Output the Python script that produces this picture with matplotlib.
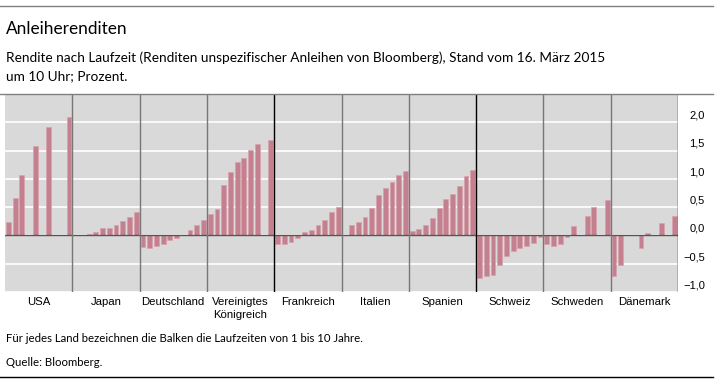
import numpy as np
import matplotlib
matplotlib.use("Agg")
import matplotlib.pyplot as plt
from matplotlib.lines import Line2D

nan = np.nan

# Yields by maturity 1..10 years (percent); NaN = no bond for that maturity
countries = ["USA", "Japan", "Deutschland", "Vereinigtes\nKönigreich", "Frankreich",
             "Italien", "Spanien", "Schweiz", "Schweden", "Dänemark"]
usa = [0.23, 0.67, 1.07, nan, 1.58, nan, 1.91, nan, nan, 2.10]
japan = [nan, 0.01, 0.02, 0.06, 0.13, 0.13, 0.18, 0.25, 0.32, 0.42]
deutschland = [-0.21, -0.22, -0.19, -0.15, -0.08, -0.05, 0.005, 0.10, 0.18, 0.27]
uk = [0.38, 0.47, 0.89, 1.12, 1.29, 1.36, 1.51, 1.62, nan, 1.69]
frankreich = [-0.15, -0.15, -0.12, -0.04, 0.06, 0.09, 0.18, 0.28, 0.41, 0.51]
italien = [nan, 0.19, 0.24, 0.32, 0.48, 0.71, 0.84, 0.94, 1.07, 1.14]
spanien = [0.08, 0.12, 0.19, 0.31, 0.49, 0.65, 0.74, 0.87, 1.05, 1.16]
schweiz = [-0.75, -0.71, -0.70, -0.52, -0.37, -0.28, -0.22, -0.19, -0.14, -0.035]
schweden = [-0.16, -0.19, -0.15, -0.03, 0.16, nan, 0.35, 0.51, nan, 0.62]
daenemark = [-0.71, -0.52, nan, nan, -0.22, 0.04, nan, 0.22, nan, 0.35]
series = [usa, japan, deutschland, uk, frankreich, italien, spanien, schweiz, schweden, daenemark]
yticks = [-1.0, -0.5, 0.0, 0.5, 1.0, 1.5, 2.0]

TEXT_FONT = ["Lato", "DejaVu Sans"]
TICK_FONT = ["Liberation Sans", "DejaVu Sans"]
BAR = "#c4808e"

fig = plt.figure(figsize=(7.2, 3.85), dpi=100)
W, H = 720, 385

def fy(px):
    return 1 - px / H

ax = fig.add_axes([5 / W, fy(292), 673 / W, (292 - 94) / H])
ax.set_facecolor("#d9d9d9")
ax.set_xlim(0, 100)
ax.set_ylim(-1.0, 2.5)

for y in yticks:
    ax.axhline(y, color="white", lw=1.2, zorder=1)
ax.axhline(0, color="#555555", lw=1.0, zorder=3)

for g, vals in enumerate(series):
    x = g * 10 + np.arange(10) + 0.5
    v = np.array(vals, dtype=float)
    ok = ~np.isnan(v)
    ax.bar(x[ok], v[ok], width=0.72, color=BAR, edgecolor="#d7a3ae", linewidth=0.5, zorder=2)

# group dividers
for g in range(1, 11):
    c = "black" if g in (4, 7, 10) else "#777777"
    ax.axvline(g * 10, color=c, lw=1.0, zorder=4)

ax.set_xticks([])
ax.set_yticks([])
for s in ax.spines.values():
    s.set_visible(False)

# right-hand value labels
for y in yticks:
    lab = f"{y:.1f}".replace(".", ",").replace("-", "\u2212")
    ax.text(1.04, y + 0.03, lab, transform=ax.get_yaxis_transform(), ha="right", va="bottom",
            fontsize=8, family=TICK_FONT, color="black")

# country labels
for g, name in enumerate(countries):
    ax.text(g * 10 + 5, -1.09, name, ha="center", va="top", fontsize=8.2,
            family=TICK_FONT, linespacing=1.4)

# header / footer
fig.text(6 / W, fy(29), "Anleiherenditen", fontsize=12.4, family=TEXT_FONT, va="center")
fig.text(6 / W, fy(58), "Rendite nach Laufzeit (Renditen unspezifischer Anleihen von Bloomberg), "
         "Stand vom 16. März 2015", fontsize=9.8, family=TEXT_FONT, va="center")
fig.text(6 / W, fy(76), "um 10 Uhr; Prozent.", fontsize=9.8, family=TEXT_FONT, va="center")
fig.text(6 / W, fy(338), "Für jedes Land bezeichnen die Balken die Laufzeiten von 1 bis 10 Jahre.",
         fontsize=8.2, family=TEXT_FONT, va="center")
fig.text(6 / W, fy(363), "Quelle: Bloomberg.", fontsize=8.2, family=TEXT_FONT, va="center")

for py, col in [(6, "#808080"), (94, "#808080"), (377, "black")]:
    fig.add_artist(Line2D([0, 713 / W], [fy(py), fy(py)], color=col, lw=1.0))

fig.savefig("out.png", dpi=100)
